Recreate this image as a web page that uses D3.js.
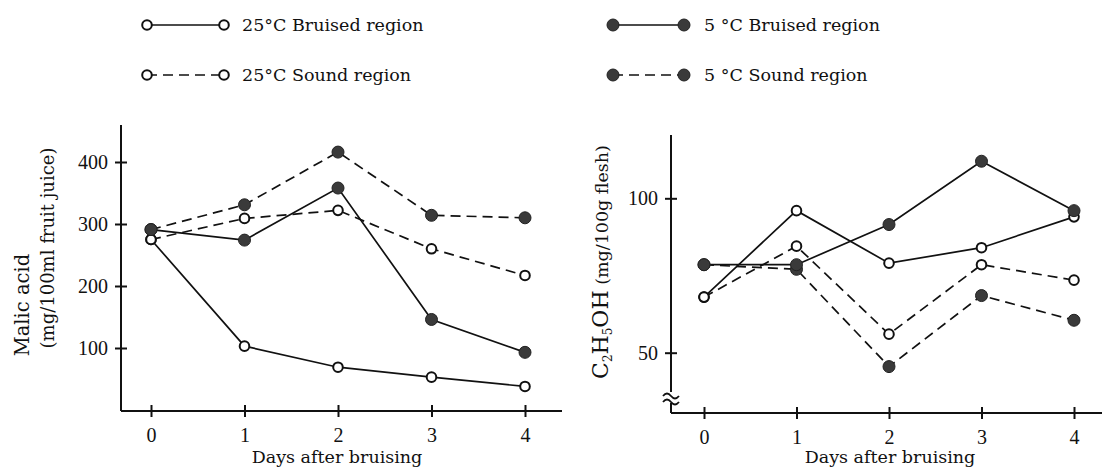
<!doctype html>
<html>
<head>
<script src="https://cdnjs.cloudflare.com/ajax/libs/d3/7.8.5/d3.min.js"></script>
<style>
body { margin: 0; background: #fff; }
svg { display: block; }
.word { font-family: "DejaVu Serif", serif; font-size: 17.5px; fill: #111; }
.num { font-family: "Liberation Serif", serif; font-size: 20px; fill: #111; }
.axis line, .axisline { stroke: #111; stroke-width: 2px; }
.series { fill: none; stroke: #111; stroke-width: 1.7px; }
.dashed { stroke-dasharray: 10,6; }
.open { fill: #fff; stroke: #111; stroke-width: 2px; }
.filled { fill: #3a3a3a; stroke: #222; stroke-width: 1px; }
</style>
</head>
<body>
<svg width="1102" height="470"></svg>
<script>
var days = [0, 1, 2, 3, 4];
var malicTicks = [100, 200, 300, 400];
var ethanolTicks = [50, 100];

// malic acid (mg/100ml fruit juice)
var malic25Bruised = [275, 103, 69, 53, 38];
var malic25Sound   = [275, 309, 322, 260, 217];
var malic5Bruised  = [291, 274, 358, 146, 93];
var malic5Sound    = [291, 331, 416, 314, 310];

// C2H5OH (mg/100g flesh)
var eth25Bruised = [68, 96, 79, 84, 94];
var eth25Sound   = [68, 84.5, 56, 78.5, 73.5];
var eth5Bruised  = [78.5, 78.5, 91.5, 112, 96];
var eth5Sound    = [78.5, 77, 45.5, 68.5, 60.5];

var legendItems = [
  {label: "25°C Bruised region", open: true, dashed: false, col: 0, row: 0},
  {label: "25°C Sound region", open: true, dashed: true, col: 0, row: 1},
  {label: "5 °C Bruised region", open: false, dashed: false, col: 1, row: 0},
  {label: "5 °C Sound region", open: false, dashed: true, col: 1, row: 1}
];

var svg = d3.select("svg");

function drawPanel(cfg) {
  var g = svg.append("g");
  var x = cfg.x, y = cfg.y;

  // axis lines
  g.append("line").attr("class", "axisline")
    .attr("x1", cfg.ax).attr("x2", cfg.ax).attr("y1", cfg.top).attr("y2", cfg.ay);
  g.append("line").attr("class", "axisline")
    .attr("x1", cfg.ax).attr("x2", cfg.right).attr("y1", cfg.ay).attr("y2", cfg.ay);

  var ya = g.append("g").attr("class", "axis")
    .attr("transform", "translate(" + cfg.ax + ",0)")
    .call(d3.axisLeft(y).tickValues(cfg.yticks).tickSize(6).tickPadding(8).tickFormat(d3.format("d")));
  ya.select(".domain").remove();
  ya.selectAll("line").attr("x1", 6);
  ya.selectAll("text").attr("class", "num").attr("font-family", null).attr("font-size", null)
    .attr("x", -13);

  var xa = g.append("g").attr("class", "axis")
    .attr("transform", "translate(0," + cfg.ay + ")")
    .call(d3.axisBottom(x).tickValues(days).tickSize(6).tickFormat(d3.format("d")));
  xa.select(".domain").remove();
  xa.selectAll("line").attr("y1", -6);
  xa.selectAll("text").attr("class", "num").attr("font-family", null).attr("font-size", null)
    .attr("y", 24).attr("dy", "0.35em");

  g.append("text").attr("class", "word")
    .attr("x", cfg.xtitle).attr("y", 463)
    .attr("text-anchor", "middle").text("Days after bruising");

  var line = d3.line().x(function (d, i) { return x(days[i]); }).y(function (d) { return y(d); });
  cfg.series.forEach(function (s) {
    g.append("path").attr("class", "series" + (s.dashed ? " dashed" : "")).attr("d", line(s.values));
  });
  cfg.series.forEach(function (s) {
    g.selectAll(null).data(s.values).enter().append("circle")
      .attr("class", s.open ? "open" : "filled")
      .attr("cx", function (d, i) { return x(days[i]); })
      .attr("cy", function (d) { return y(d); })
      .attr("r", s.open ? 4.8 : 6);
  });
  return g;
}

// left panel: malic acid
var left = drawPanel({
  x: d3.scaleLinear().domain([0, 4]).range([151, 525]),
  y: d3.scaleLinear().domain([0, 400]).range([410, 162]),
  ax: 121, ay: 411, top: 125, right: 562, xtitle: 337,
  yticks: malicTicks,
  series: [
    {values: malic25Sound, open: true, dashed: true},
    {values: malic5Sound, open: false, dashed: true},
    {values: malic25Bruised, open: true, dashed: false},
    {values: malic5Bruised, open: false, dashed: false}
  ]
});
left.append("text").attr("class", "word")
  .attr("transform", "translate(22,305) rotate(-90)").attr("dy", "0.35em")
  .attr("text-anchor", "middle").style("font-size", "19.5px").text("Malic acid");
left.append("text").attr("class", "word")
  .attr("transform", "translate(48,248) rotate(-90)").attr("dy", "0.35em")
  .attr("text-anchor", "middle").style("font-size", "18px").text("(mg/100ml fruit juice)");

// right panel: ethanol
var right = drawPanel({
  x: d3.scaleLinear().domain([0, 4]).range([704, 1074]),
  y: d3.scaleLinear().domain([50, 100]).range([352.7, 198.3]),
  ax: 671, ay: 413, top: 135, right: 1102, xtitle: 890,
  yticks: ethanolTicks,
  series: [
    {values: eth25Sound, open: true, dashed: true},
    {values: eth5Sound, open: false, dashed: true},
    {values: eth25Bruised, open: true, dashed: false},
    {values: eth5Bruised, open: false, dashed: false}
  ]
});
// axis break mark
right.append("rect").attr("x", 664).attr("y", 392).attr("width", 14).attr("height", 11).attr("fill", "#fff");
right.append("path").attr("fill", "none").attr("stroke", "#111").attr("stroke-width", 1.8)
  .attr("d", "M663,396 q4,-5 8,0 t8,0 M663,402 q4,-5 8,0 t8,0");

var yl = right.append("text").attr("class", "word")
  .attr("transform", "translate(602,262) rotate(-90)").attr("dy", "0.35em")
  .attr("text-anchor", "middle");
yl.append("tspan").style("font-size", "22px").text("C");
yl.append("tspan").style("font-size", "12px").attr("dy", "4").text("2");
yl.append("tspan").style("font-size", "22px").attr("dy", "-4").text("H");
yl.append("tspan").style("font-size", "12px").attr("dy", "4").text("5");
yl.append("tspan").style("font-size", "22px").attr("dy", "-4").text("OH");
yl.append("tspan").style("font-size", "17.5px").text(" (mg/100g flesh)");

// legend
var lg = svg.append("g");
var colX = [[147, 224, 242], [613, 684, 704]];
var rowY = [25, 75];
legendItems.forEach(function (it) {
  var c = colX[it.col], yy = rowY[it.row];
  lg.append("line").attr("class", "series" + (it.dashed ? " dashed" : ""))
    .attr("x1", c[0]).attr("x2", c[1]).attr("y1", yy).attr("y2", yy);
  [c[0], c[1]].forEach(function (xx) {
    lg.append("circle").attr("class", it.open ? "open" : "filled")
      .attr("cx", xx).attr("cy", yy).attr("r", it.open ? 4.8 : 6);
  });
  lg.append("text").attr("class", "word").attr("x", c[2]).attr("y", yy).attr("dy", "0.35em").text(it.label);
});
</script>
</body>
</html>
